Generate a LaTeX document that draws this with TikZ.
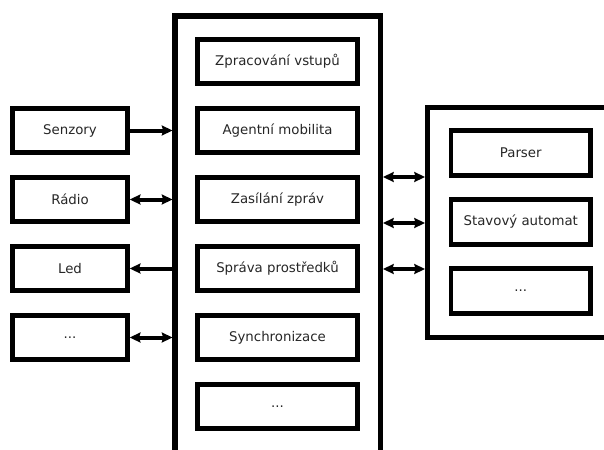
\documentclass[tikz,border=0pt]{standalone}
\usepackage{fontspec}
\setmainfont{DejaVu Sans}
\usetikzlibrary{arrows.meta}

\begin{document}
\begin{tikzpicture}[x=0.75pt,y=-0.75pt,font=\fontsize{10}{12}\selectfont,
		box/.style={draw,line width=3.4pt,minimum height=33pt,inner sep=0pt,text=black!85},
		corebox/.style={box,minimum width=120pt},
		hwbox/.style={box,minimum width=86.25pt},
		intbox/.style={box,minimum width=104.6pt,minimum height=33.75pt},
		frame/.style={line width=3.8pt},
		tip/.tip={Stealth[length=8pt,width=7.5pt,inset=1pt]},
		conn/.style={line width=3pt,-tip},
		dconn/.style={line width=3pt,tip-tip}]
	\useasboundingbox (0,0) rectangle (604,450);
	\def\pitch{69}
	% core of the platform
	\coordinate (core nw) at (175,16);
	\coordinate (core ne) at (380.5,16);
	\draw[frame] (175,450)--(core nw)--(core ne)--(380.5,450);
	\node[corebox] (zpr) at (277.5,61.5) {Zpracování vstupů};
	\node[corebox] (agm) at (277.5,61.5+\pitch) {Agentní mobilita};
	\node[corebox] (zas) at (277.5,61.5+2*\pitch) {Zasílání zpráv};
	\node[corebox] (spr) at (277.5,61.5+3*\pitch) {Správa prostředků};
	\node[corebox] (syn) at (277.5,61.5+4*\pitch) {Synchronizace};
	\node[corebox] (cdots) at (277.5,61.5+5*\pitch) {...};
	% hardware
	\node[hwbox] (senz) at (70,130.5) {Senzory};
	\node[hwbox] (radio) at (70,130.5+\pitch) {Rádio};
	\node[hwbox] (led) at (70,130.5+2*\pitch) {Led};
	\node[hwbox] (hdots) at (70,130.5+3*\pitch) {...};
	\draw[conn,shorten >=1.9pt] (senz.east)--(senz.east -| core nw);
	\draw[dconn,shorten >=1.9pt] (radio.east)--(radio.east -| core nw);
	\draw[conn,shorten <=1.9pt] (led.east -| core nw)--(led.east);
	\draw[dconn,shorten >=1.9pt] (hdots.east)--(hdots.east -| core nw);
	% interpreter
	\coordinate (int nw) at (427.5,107.5);
	\coordinate (int sw) at (427.5,337.5);
	\draw[frame] (604,107.5)--(int nw)--(int sw)--(604,337.5);
	\node[intbox] (parser) at (520.75,153) {Parser};
	\node[intbox] (automat) at (520.75,153+\pitch) {Stavový automat};
	\node[intbox] (idots) at (520.75,153+2*\pitch) {...};
	\foreach \y in {177,223,269}
		\draw[dconn,shorten <=1.9pt,shorten >=1.9pt] (core ne |- 0,\y)--(int nw |- 0,\y);
\end{tikzpicture}
\end{document}
